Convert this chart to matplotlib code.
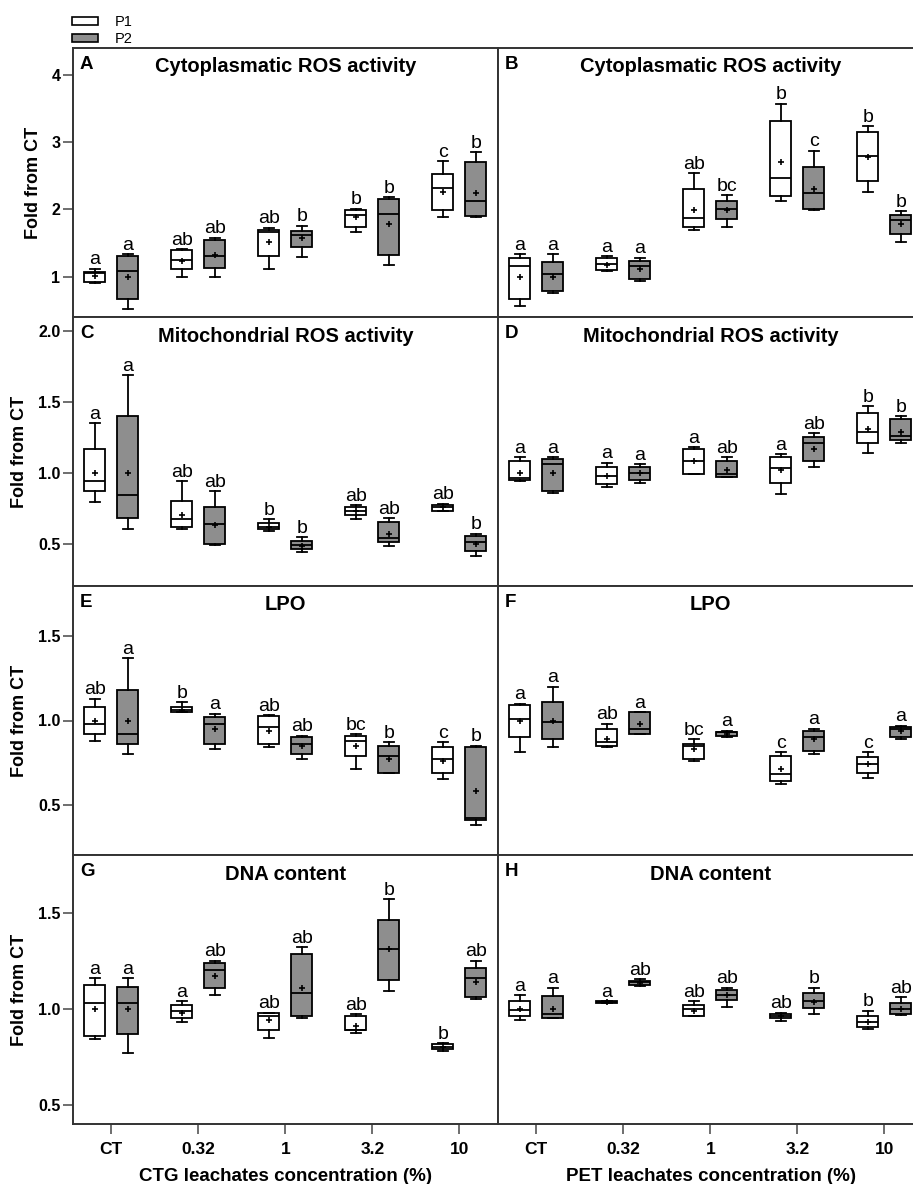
import matplotlib
matplotlib.use("Agg")
import matplotlib.pyplot as plt
from matplotlib.patches import Patch

plt.rcParams['font.family'] = ['Liberation Sans', 'DejaVu Sans']

concs = ["CT", "0.32", "1", "3.2", "10"]

# each row: whislo, q1, med, q3, whishi, mean
A_p1 = [[0.90, 0.92, 1.05, 1.07, 1.12, 1.01],
        [0.99, 1.12, 1.25, 1.40, 1.41, 1.24],
        [1.12, 1.31, 1.67, 1.70, 1.73, 1.52],
        [1.67, 1.74, 1.91, 1.99, 2.01, 1.88],
        [1.88, 1.99, 2.32, 2.53, 2.72, 2.26]]
A_p2 = [[0.52, 0.67, 1.09, 1.31, 1.33, 1.00],
        [0.99, 1.13, 1.31, 1.55, 1.58, 1.32],
        [1.29, 1.44, 1.62, 1.68, 1.76, 1.57],
        [1.18, 1.32, 1.93, 2.15, 2.18, 1.78],
        [1.88, 1.90, 2.12, 2.70, 2.85, 2.24]]
A_sig1 = ["a", "ab", "ab", "b", "c"]
A_sig2 = ["a", "ab", "b", "b", "b"]

B_p1 = [[0.57, 0.67, 1.16, 1.28, 1.33, 1.00],
        [1.09, 1.10, 1.19, 1.28, 1.30, 1.17],
        [1.70, 1.74, 1.87, 2.30, 2.54, 1.99],
        [2.12, 2.20, 2.47, 3.31, 3.57, 2.70],
        [2.26, 2.42, 2.79, 3.15, 3.24, 2.78]]
B_p2 = [[0.75, 0.78, 1.04, 1.22, 1.33, 1.00],
        [0.94, 0.96, 1.16, 1.23, 1.28, 1.11],
        [1.74, 1.85, 2.01, 2.12, 2.21, 1.99],
        [1.99, 2.01, 2.24, 2.63, 2.87, 2.31],
        [1.52, 1.64, 1.84, 1.91, 1.97, 1.78]]
B_sig1 = ["a", "a", "ab", "b", "b"]
B_sig2 = ["a", "a", "bc", "c", "b"]

C_p1 = [[0.79, 0.87, 0.94, 1.17, 1.35, 1.00],
        [0.60, 0.62, 0.67, 0.80, 0.94, 0.70],
        [0.59, 0.60, 0.62, 0.645, 0.67, 0.62],
        [0.67, 0.70, 0.73, 0.76, 0.77, 0.73],
        [0.73, 0.73, 0.76, 0.77, 0.78, 0.76]]
C_p2 = [[0.60, 0.68, 0.84, 1.40, 1.69, 1.00],
        [0.49, 0.50, 0.64, 0.76, 0.87, 0.63],
        [0.44, 0.46, 0.49, 0.52, 0.545, 0.48],
        [0.48, 0.51, 0.54, 0.65, 0.68, 0.57],
        [0.41, 0.45, 0.51, 0.55, 0.57, 0.50]]
C_sig1 = ["a", "ab", "b", "ab", "ab"]
C_sig2 = ["a", "ab", "b", "ab", "b"]

D_p1 = [[0.94, 0.95, 0.96, 1.08, 1.11, 1.00],
        [0.90, 0.92, 0.98, 1.04, 1.07, 0.98],
        [0.99, 0.99, 1.08, 1.17, 1.18, 1.08],
        [0.85, 0.93, 1.03, 1.11, 1.13, 1.02],
        [1.14, 1.21, 1.29, 1.42, 1.47, 1.31]]
D_p2 = [[0.86, 0.87, 1.06, 1.10, 1.11, 1.00],
        [0.93, 0.95, 1.00, 1.04, 1.06, 1.00],
        [0.97, 0.97, 0.99, 1.08, 1.11, 1.02],
        [1.04, 1.08, 1.21, 1.25, 1.28, 1.17],
        [1.21, 1.23, 1.26, 1.38, 1.40, 1.29]]
D_sig1 = ["a", "a", "a", "a", "b"]
D_sig2 = ["a", "a", "ab", "ab", "b"]

E_p1 = [[0.88, 0.92, 0.98, 1.08, 1.13, 1.00],
        [1.05, 1.05, 1.06, 1.08, 1.11, 1.06],
        [0.84, 0.86, 0.96, 1.025, 1.03, 0.94],
        [0.71, 0.79, 0.88, 0.91, 0.92, 0.85],
        [0.65, 0.69, 0.77, 0.84, 0.87, 0.76]]
E_p2 = [[0.80, 0.86, 0.92, 1.18, 1.37, 1.00],
        [0.83, 0.86, 0.98, 1.02, 1.04, 0.95],
        [0.77, 0.80, 0.86, 0.90, 0.91, 0.85],
        [0.69, 0.69, 0.79, 0.85, 0.87, 0.77],
        [0.38, 0.41, 0.42, 0.845, 0.85, 0.58]]
E_sig1 = ["ab", "b", "ab", "bc", "c"]
E_sig2 = ["a", "a", "ab", "b", "b"]

F_p1 = [[0.81, 0.90, 1.01, 1.09, 1.10, 1.00],
        [0.84, 0.85, 0.87, 0.95, 0.98, 0.89],
        [0.76, 0.77, 0.85, 0.86, 0.89, 0.83],
        [0.62, 0.64, 0.68, 0.79, 0.81, 0.71],
        [0.66, 0.69, 0.74, 0.78, 0.81, 0.74]]
F_p2 = [[0.84, 0.89, 0.99, 1.11, 1.20, 1.00],
        [0.92, 0.92, 0.95, 1.05, 1.05, 0.98],
        [0.90, 0.91, 0.93, 0.93, 0.94, 0.92],
        [0.80, 0.82, 0.90, 0.94, 0.95, 0.89],
        [0.89, 0.90, 0.95, 0.96, 0.97, 0.94]]
F_sig1 = ["a", "ab", "bc", "c", "c"]
F_sig2 = ["a", "a", "a", "a", "a"]

G_p1 = [[0.84, 0.86, 1.03, 1.125, 1.16, 1.00],
        [0.93, 0.95, 0.99, 1.02, 1.04, 0.98],
        [0.85, 0.89, 0.96, 0.98, 0.98, 0.94],
        [0.875, 0.89, 0.89, 0.96, 0.97, 0.91],
        [0.78, 0.79, 0.80, 0.815, 0.82, 0.80]]
G_p2 = [[0.77, 0.87, 1.03, 1.115, 1.16, 1.00],
        [1.07, 1.11, 1.20, 1.24, 1.25, 1.17],
        [0.95, 0.96, 1.08, 1.285, 1.32, 1.11],
        [1.09, 1.15, 1.31, 1.46, 1.57, 1.31],
        [1.05, 1.06, 1.16, 1.21, 1.25, 1.14]]
G_sig1 = ["a", "a", "ab", "ab", "b"]
G_sig2 = ["a", "ab", "ab", "b", "ab"]

H_p1 = [[0.94, 0.96, 0.995, 1.04, 1.07, 1.00],
        [1.03, 1.03, 1.035, 1.04, 1.04, 1.035],
        [0.96, 0.96, 1.00, 1.02, 1.04, 0.99],
        [0.935, 0.95, 0.96, 0.97, 0.98, 0.96],
        [0.895, 0.905, 0.93, 0.96, 0.99, 0.93]]
H_p2 = [[0.95, 0.95, 0.97, 1.065, 1.11, 1.00],
        [1.12, 1.125, 1.14, 1.145, 1.155, 1.135],
        [1.01, 1.045, 1.07, 1.10, 1.11, 1.07],
        [0.975, 1.005, 1.04, 1.08, 1.11, 1.035],
        [0.965, 0.97, 1.00, 1.03, 1.06, 1.00]]
H_sig1 = ["a", "a", "ab", "ab", "b"]
H_sig2 = ["a", "ab", "ab", "b", "ab"]

panels = [
    ("A", "Cytoplasmatic ROS activity", A_p1, A_p2, A_sig1, A_sig2),
    ("B", "Cytoplasmatic ROS activity", B_p1, B_p2, B_sig1, B_sig2),
    ("C", "Mitochondrial ROS activity", C_p1, C_p2, C_sig1, C_sig2),
    ("D", "Mitochondrial ROS activity", D_p1, D_p2, D_sig1, D_sig2),
    ("E", "LPO", E_p1, E_p2, E_sig1, E_sig2),
    ("F", "LPO", F_p1, F_p2, F_sig1, F_sig2),
    ("G", "DNA content", G_p1, G_p2, G_sig1, G_sig2),
    ("H", "DNA content", H_p1, H_p2, H_sig1, H_sig2),
]
ylims = [(0.4, 4.4), (0.2, 2.1), (0.2, 1.8), (0.4, 1.8)]
yticks = [[1, 2, 3, 4], [0.5, 1.0, 1.5, 2.0], [0.5, 1.0, 1.5], [0.5, 1.0, 1.5]]
ytick_fmt = ["{:.0f}", "{:.1f}", "{:.1f}", "{:.1f}"]
xlabels = ["CTG leachates concentration (%)", "PET leachates concentration (%)"]

GRAY = "#8e8e8e"
SPINE = "#333333"

W, H = 913, 1184
fig = plt.figure(figsize=(W / 100, H / 100), dpi=100)

left0, panel_w = 73, 425
top0, panel_h = 48, 269


def to_stats(rows):
    return [dict(whislo=r[0], q1=r[1], med=r[2], q3=r[3], whishi=r[4], mean=r[5])
            for r in rows]


off, bw = 0.19, 0.24
for i, (tag, title, p1, p2, s1, s2) in enumerate(panels):
    row, col = divmod(i, 2)
    x0 = left0 + col * panel_w
    y1 = top0 + row * panel_h
    ax = fig.add_axes([x0 / W, 1 - (y1 + panel_h) / H, panel_w / W, panel_h / H])

    for data, sig, shift, fc in [(p1, s1, -off, "white"), (p2, s2, off, GRAY)]:
        pos = [k + shift for k in range(len(concs))]
        ax.bxp(to_stats(data), positions=pos, widths=bw, capwidths=0.12,
               patch_artist=True, showmeans=True, showfliers=False,
               boxprops=dict(facecolor=fc, edgecolor="black", linewidth=1.3),
               medianprops=dict(color="black", linewidth=1.3),
               whiskerprops=dict(color="black", linewidth=1.3),
               capprops=dict(color="black", linewidth=1.3),
               meanprops=dict(marker="+", markeredgecolor="black",
                              markersize=5, markeredgewidth=1.2))
        for k, r in enumerate(data):
            ax.annotate(sig[k], (pos[k], r[4]), xytext=(0, 0.3),
                        textcoords="offset points", ha="center", va="bottom",
                        fontsize=14)

    ax.set_xlim(-0.44, 4.445)
    ax.set_ylim(*ylims[row])
    for sp in ax.spines.values():
        sp.set_color(SPINE)
        sp.set_linewidth(1.4)

    ax.text(7 / panel_w, 1 - 8 / panel_h, tag, transform=ax.transAxes,
            ha="left", va="top", fontsize=13.5, fontweight="bold")
    ax.text(0.5, 1 - 19 / panel_h, title, transform=ax.transAxes,
            ha="center", va="center", fontsize=14.5, fontweight="bold")

    if col == 0:
        ax.set_yticks(yticks[row])
        ax.set_yticklabels([ytick_fmt[row].format(v) for v in yticks[row]],
                           fontweight="bold", fontsize=11.5)
        ax.tick_params(axis="y", direction="out", length=7, width=1.2,
                       color="#555555", pad=2)
        ax.set_ylabel("Fold from CT", fontsize=13, fontweight="bold", labelpad=7)
    else:
        ax.tick_params(axis="y", left=False, labelleft=False)

    if row == 3:
        ax.set_xticks(range(len(concs)))
        ax.set_xticklabels(concs, fontweight="bold", fontsize=12.5)
        ax.tick_params(axis="x", direction="out", length=7, width=1.2,
                       color="#555555", pad=6)
        ax.set_xlabel(xlabels[col], fontsize=13.5, fontweight="bold", labelpad=8)
    else:
        ax.tick_params(axis="x", bottom=False, labelbottom=False)

handles = [Patch(facecolor="white", edgecolor="black", linewidth=1.2),
           Patch(facecolor=GRAY, edgecolor="black", linewidth=1.2)]
fig.legend(handles, ["P1", "P2"], loc="upper left",
           bbox_to_anchor=(72 / W, 1 - 15 / H), frameon=False, fontsize=10.5,
           handlelength=1.8, handleheight=0.45, handletextpad=1.1,
           labelspacing=0.2, borderpad=0, borderaxespad=0)

fig.savefig("out.png", dpi=100)
